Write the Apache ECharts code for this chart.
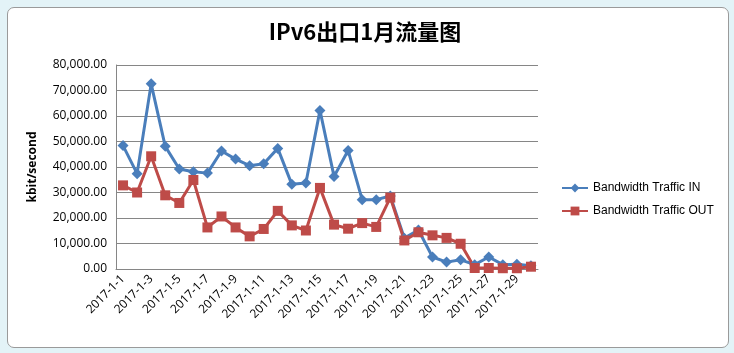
<!DOCTYPE html>
<html>
<head>
<meta charset="utf-8">
<script src="https://cdn.jsdelivr.net/npm/echarts@6/dist/echarts.min.js"></script>
<style>
  html, body { margin: 0; padding: 0; background: #e3f3f7; }
  .frame {
    position: absolute; left: 7px; top: 7px; width: 720px; height: 339px;
    border: 1px solid #9a9a9a; border-radius: 7px; background: #fff; overflow: hidden;
  }
  #chart { position: absolute; left: -8px; top: -8px; width: 734px; height: 353px; }
</style>
</head>
<body>
<div class="frame"><div id="chart"></div></div>
<script>
// 1月每日流量 (kbit/second)
const days = [];
for (let d = 1; d <= 30; d++) days.push("2017-1-" + d);
const trafficIn = [48400, 37400, 72600, 48100, 39200, 38100, 37600, 46300, 43100, 40500,
  41300, 47300, 33200, 33700, 62200, 36300, 46500, 27200, 27200, 28600,
  12100, 15300, 4700, 2700, 3600, 1700, 4700, 1700, 1900, 1300];
const trafficOut = [32800, 30000, 44200, 28900, 25900, 34900, 16300, 20600, 16300, 12800,
  15700, 22800, 17100, 15100, 31800, 17400, 15800, 18000, 16500, 28000,
  11200, 14400, 13200, 12200, 9900, 400, 400, 300, 300, 900];

const chart = echarts.init(document.getElementById("chart"));
const font = "'Open Sans', 'Noto Sans CJK SC', sans-serif";
const option = {
  animation: false,
  textStyle: { fontFamily: font },
  title: {
    text: "IPv6出口1月流量图",
    left: 360,
    textAlign: "center",
    top: 16,
    textStyle: { fontSize: 22, fontWeight: "bold", color: "#000", fontFamily: "'Noto Sans CJK SC', sans-serif" }
  },
  legend: {
    orient: "vertical",
    left: 556,
    top: 177,
    itemGap: 11,
    itemWidth: 26,
    itemHeight: 11,
    textStyle: { color: "#000", fontSize: 12, fontFamily: "'Liberation Sans', sans-serif" },
    data: ["Bandwidth Traffic IN", "Bandwidth Traffic OUT"]
  },
  grid: { left: 116, right: 196, top: 65, bottom: 84 },
  xAxis: {
    type: "category",
    data: days,
    axisLine: { lineStyle: { color: "#868686" } },
    axisTick: { show: false },
    axisLabel: { interval: 1, rotate: 45, color: "#000", fontSize: 12, margin: 8, fontFamily: font }
  },
  yAxis: {
    type: "value",
    min: 0,
    max: 80000,
    interval: 10000,
    name: "kbit/second",
    nameLocation: "middle",
    nameGap: 77,
    nameTextStyle: { fontWeight: "bold", fontSize: 12, color: "#000", fontFamily: font },
    axisLine: { show: true, lineStyle: { color: "#868686" } },
    axisTick: { show: false },
    splitLine: { lineStyle: { color: "#868686" } },
    axisLabel: {
      color: "#000", fontSize: 12, margin: 9, fontFamily: font,
      formatter: v => v.toLocaleString("en-US", { minimumFractionDigits: 2, maximumFractionDigits: 2 })
    }
  },
  series: [
    {
      name: "Bandwidth Traffic IN",
      type: "line",
      data: trafficIn,
      symbol: "diamond",
      symbolSize: 11,
      showAllSymbol: true,
      lineStyle: { width: 3, color: "#4a7ebb" },
      itemStyle: { color: "#4a7ebb" }
    },
    {
      name: "Bandwidth Traffic OUT",
      type: "line",
      data: trafficOut,
      symbol: "rect",
      symbolSize: 10,
      showAllSymbol: true,
      lineStyle: { width: 3, color: "#be4b48" },
      itemStyle: { color: "#be4b48" }
    }
  ]
};
chart.setOption(option);
</script>
</body>
</html>
